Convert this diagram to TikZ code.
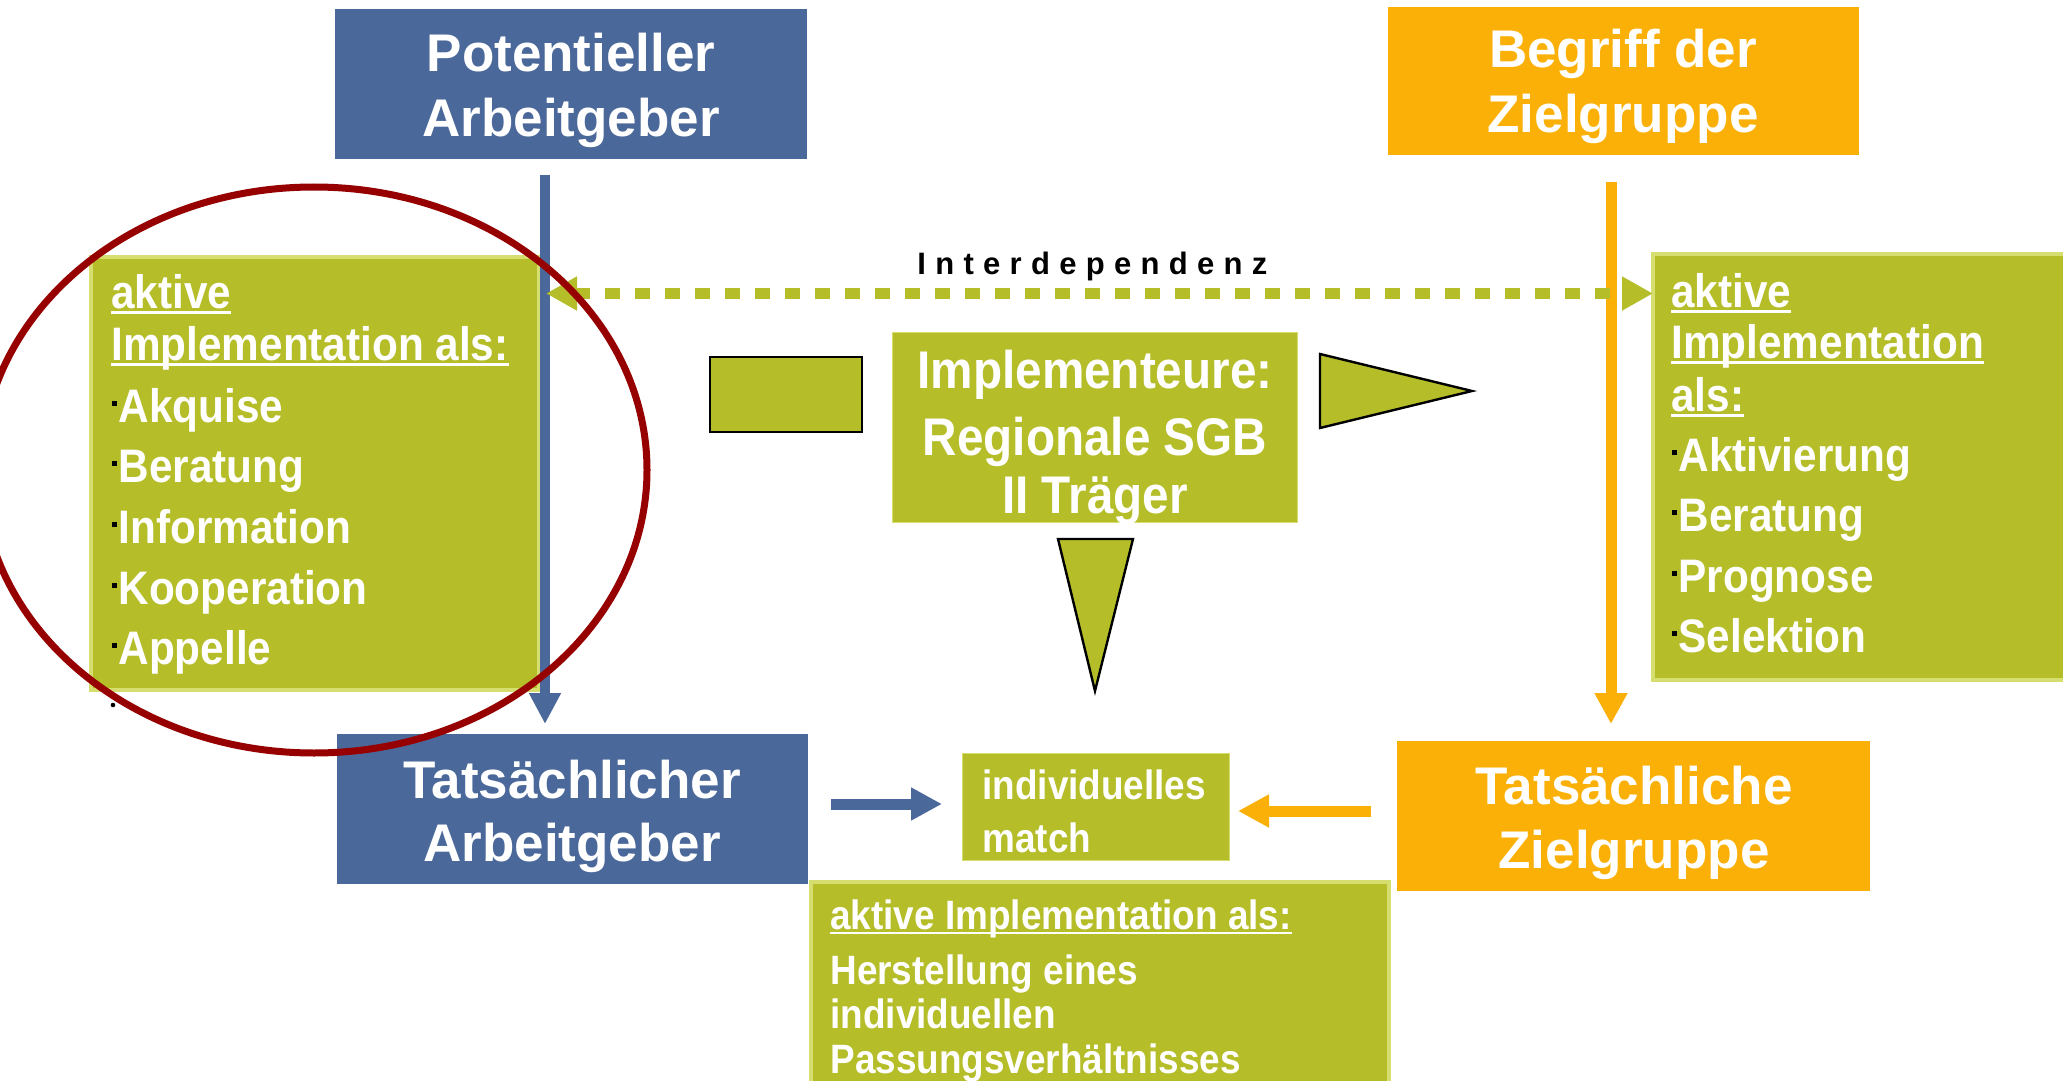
\documentclass[tikz,border=0pt]{standalone}
\usepackage{fontspec}
\setmainfont{Liberation Sans}
\newfontfamily\narrowfont[FakeStretch=0.9]{Liberation Sans}
\newfontfamily\spacedfont[LetterSpace=30]{Liberation Sans}
\usetikzlibrary{arrows.meta,calc}
\definecolor{cblue}{HTML}{4A6899}
\definecolor{corange}{RGB}{250,176,6}
\definecolor{cgreen}{RGB}{181,189,41}
\definecolor{cgreenlight}{RGB}{215,222,112}
\definecolor{cred}{RGB}{150,0,0}
\newsavebox\ulbox
\newcommand\ulx[1]{\sbox\ulbox{#1}\rlap{\raisebox{-0.13em}{\rule{\wd\ulbox}{0.065em}}}\usebox\ulbox}
\newcommand\bul{\makebox[0.13em][l]{\textcolor{black}{\raisebox{0.35em}{\rule{0.1em}{0.1em}}}}}
\newcommand\boxat[6]{\node[#6, anchor=north west, inner sep=0pt, outer sep=0pt, minimum width={(#4-#2)*0.5pt}, minimum height={(#5-#3)*0.5pt}] (#1) at (#2,#3) {};}
\tikzset{
  bluebox/.style={fill=cblue},
  orangebox/.style={fill=corange},
  greenbox/.style={fill=cgreen, draw=cgreenlight, line width=2pt},
  greenplain/.style={fill=cgreen, draw=cgreenlight, line width=0.5pt},
  blackbox/.style={fill=cgreen, draw=black, line width=1.2pt},
  title/.style={text=white, font=\bfseries\fontsize{26.5pt}{32pt}\selectfont, inner sep=0pt, anchor=base},
  midtxt/.style={text=white, font=\narrowfont\bfseries\fontsize{26.5pt}{32pt}\selectfont, inner sep=0pt, anchor=base},
  listtxt/.style={text=white, font=\narrowfont\bfseries\fontsize{23.5pt}{28pt}\selectfont, inner sep=0pt, anchor=base west},
  smalltxt/.style={text=white, font=\narrowfont\bfseries\fontsize{20.5pt}{25pt}\selectfont, inner sep=0pt, anchor=base west},
  spacedtxt/.style={text=black, font=\spacedfont\bfseries\fontsize{15.5pt}{18pt}\selectfont, inner sep=0pt, anchor=base west},
  bluearrow/.style={cblue, line width=5.5pt, -{Triangle[length=15.5pt,width=15.5pt]}},
  orangearrow/.style={corange, line width=5.5pt, -{Triangle[length=15.5pt,width=15.5pt]}},
  dotarrow/.style={cgreen, line width=5.5pt, dash pattern=on 7.5pt off 7.5pt, {Triangle[length=15.5pt,width=16pt]}-{Triangle[length=15.5pt,width=16pt]}},
}
\begin{document}
\begin{tikzpicture}[x=0.5pt,y=-0.5pt]
\useasboundingbox (0,0) rectangle (2063,1081);
\clip (0,0) rectangle (2063,1081);
\fill[white] (0,0) rectangle (2063,1081);

% boxes
\boxat{PA}{335}{9}{807}{159}{bluebox}
\boxat{BZ}{1388}{7}{1859}{155}{orangebox}
\boxat{TA}{337}{734}{808}{884}{bluebox}
\boxat{TZ}{1397}{741}{1870}{891}{orangebox}
\boxat{L}{91}{257}{539}{690}{greenbox}
\boxat{R}{1653}{254}{2090}{680}{greenbox}
\boxat{IM}{892}{332}{1297}{522}{greenplain}
\boxat{MA}{962}{753}{1229}{860}{greenplain}
\boxat{BB}{811}{882}{1389}{1110}{greenbox}
\boxat{SR}{710}{357}{862}{432}{blackbox}

% triangles
\filldraw[fill=cgreen, draw=black, line width=1.2pt] (1320,354) -- (1320,428) -- (1472,391) -- cycle;
\filldraw[fill=cgreen, draw=black, line width=1.2pt] (1058,539) -- (1133,539) -- (1095,691) -- cycle;

% title texts
\node[title] (pa1) at (571,72) {Potentieller};
\node[title] (pa2) at (571,137) {Arbeitgeber};
\node[title] (bz1) at (1623,68) {Begriff der};
\node[title] (bz2) at (1623,133) {Zielgruppe};
\node[title] (ta1) at (572,798) {Tatsächlicher};
\node[title] (ta2) at (572,861) {Arbeitgeber};
\node[title] (tz1) at (1634,804) {Tatsächliche};
\node[title] (tz2) at (1634,868) {Zielgruppe};

% middle box
\node[midtxt] (im1) at (1095,388) {Implementeure:};
\node[midtxt] (im2) at (1095,455) {Regionale SGB};
\node[midtxt] (im3) at (1095,513) {II Träger};

% left list
\node[listtxt] (l1) at (111,308) {\ulx{aktive}};
\node[listtxt] (l2) at (111,360) {\ulx{Implementation als:}};
\node[listtxt] (l3) at (112,422) {\bul Akquise};
\node[listtxt] (l4) at (112,482) {\bul Beratung};
\node[listtxt] (l5) at (112,543) {\bul Information};
\node[listtxt] (l6) at (112,604) {\bul Kooperation};
\node[listtxt] (l7) at (112,664) {\bul Appelle};
\fill[black] (113,705) circle[radius=2.3];

% right list
\node[listtxt] (r1) at (1671,307) {\ulx{aktive}};
\node[listtxt] (r2) at (1671,358) {\ulx{Implementation}};
\node[listtxt] (r3) at (1671,411) {\ulx{als:}};
\node[listtxt] (r4) at (1672,471) {\bul Aktivierung};
\node[listtxt] (r5) at (1672,531) {\bul Beratung};
\node[listtxt] (r6) at (1672,592) {\bul Prognose};
\node[listtxt] (r7) at (1672,652) {\bul Selektion};

% match box
\node[smalltxt] (m1) at (982,799) {individuelles};
\node[smalltxt] (m2) at (982,852) {match};

% bottom box
\node[smalltxt] (b1) at (830,929) {\ulx{aktive Implementation als:}};
\node[smalltxt] (b2) at (830,984) {Herstellung eines};
\node[smalltxt] (b3) at (830,1028) {individuellen};
\node[smalltxt] (b4) at (830,1073) {Passungsverhältnisses};

% Interdependenz
\node[spacedtxt] (inter) at (917,274) {Interdependenz};

% connectors
\coordinate (bx) at (545,0);
\coordinate (ox) at (1611,0);
\draw[cblue, line width=5pt, -{Triangle[length=15.5pt,width=15pt]}, shorten <=8pt, shorten >=5pt] (PA.south -| bx) -- (TA.north -| bx);
\draw[corange, line width=5.5pt, -{Triangle[length=15.5pt,width=15.5pt]}, shorten <=13.5pt, shorten >=8.5pt] (BZ.south -| ox) -- (TZ.north -| ox);

\coordinate (dl) at (546,293.5);
\draw[dotarrow] (dl) -- (R.west |- dl);

\coordinate (hb) at (0,804);
\coordinate (ho) at (0,811);
\draw[bluearrow, shorten <=11.5pt, shorten >=10pt] (TA.east |- hb) -- (MA.west |- hb);
\draw[orangearrow, shorten <=13pt, shorten >=4.5pt] (TZ.west |- ho) -- (MA.east |- ho);

% red ellipse
\draw[cred, line width=3.5pt] (314,470) ellipse [x radius=333, y radius=283];
\end{tikzpicture}
\end{document}
